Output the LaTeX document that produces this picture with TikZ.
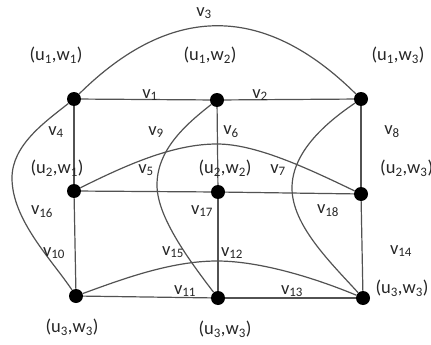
\documentclass[tikz,border=0pt]{standalone}
\usepackage{fontspec}
\setmainfont{Carlito}
\newcommand{\sbs}[1]{\textsubscript{#1}}
\begin{document}
\begin{tikzpicture}[x=1pt,y=-1pt,
  vtx/.style={circle,fill=black,inner sep=0pt,minimum size=14pt},
  edge/.style={draw=black!68,line width=1.2pt},
  lbl/.style={font=\fontsize{18.5}{20}\selectfont,text=black!85,inner sep=0pt}]
\useasboundingbox (0,0) rectangle (431,345);
% vertices
\node[vtx] (a11) at (74,99) {};
\node[vtx] (a12) at (217,100) {};
\node[vtx] (a13) at (361,99) {};
\node[vtx] (a21) at (74,191) {};
\node[vtx] (a22) at (218,192) {};
\node[vtx] (a23) at (361,194) {};
\node[vtx] (a31) at (76,296) {};
\node[vtx] (a32) at (218,298) {};
\node[vtx] (a33) at (363,298) {};
% straight edges
\draw[edge] (a11) -- (a12);
\draw[edge] (a12) -- (a13);
\draw[edge] (a21) -- (a22);
\draw[edge] (a22) -- (a23);
\draw[edge] (a31) -- (a32);
\draw[edge] (a32) -- (a33);
\draw[edge] (a11) -- (a21);
\draw[edge] (a21) -- (a31);
\draw[edge] (a12) -- (a22);
\draw[edge] (a22) -- (a32);
\draw[edge] (a13) -- (a23);
\draw[edge] (a23) -- (a33);
% curved edges
\draw[edge] (a11) .. controls (171,3) and (264,3) .. (a13);
\draw[edge] (a11) .. controls (45,122) and (12,145) .. (12,178)
  .. controls (12,220) and (52,260) .. (a31);
\draw[edge] (a12) .. controls (185,125) and (157,150) .. (157,185)
  .. controls (157,215) and (185,255) .. (a32);
\draw[edge] (a13) .. controls (330,120) and (292,150) .. (292,188)
  .. controls (292,225) and (330,262) .. (a33);
\draw[edge] (a21) .. controls (130,163) and (175,144) .. (217,144)
  .. controls (255,144) and (305,167) .. (a23);
\draw[edge] (a31) .. controls (120,280) and (170,261) .. (217,261)
  .. controls (260,261) and (315,278) .. (a33);
% vertex labels
\node[lbl] (t11) at (56,55) {(u\sbs{1},w\sbs{1})};
\node[lbl] (t12) at (210,55) {(u\sbs{1},w\sbs{2})};
\node[lbl] (t13) at (398,55) {(u\sbs{1},w\sbs{3})};
\node[lbl] (t21) at (57,168) {(u\sbs{2},w\sbs{1})};
\node[lbl] (t22) at (225,168) {(u\sbs{2},w\sbs{2})};
\node[lbl,anchor=west] (t23) at (380,168) {(u\sbs{2},w\sbs{3})};
\node[lbl] (t31) at (72,327) {(u\sbs{3},w\sbs{3})};
\node[lbl] (t32) at (225,329) {(u\sbs{3},w\sbs{3})};
\node[lbl] (t33) at (402,288) {(u\sbs{3},w\sbs{3})};
% edge labels
\node[lbl] (v3) at (204,13) {v\sbs{3}};
\node[lbl] (v1) at (150,95) {v\sbs{1}};
\node[lbl] (v2) at (260,95) {v\sbs{2}};
\node[lbl] (v4) at (56,132) {v\sbs{4}};
\node[lbl] (v9) at (156,132) {v\sbs{9}};
\node[lbl] (v6) at (231,132) {v\sbs{6}};
\node[lbl] (v8) at (392,132) {v\sbs{8}};
\node[lbl] (v5) at (146,170) {v\sbs{5}};
\node[lbl] (v7) at (278,170) {v\sbs{7}};
\node[lbl] (v16) at (42,212) {v\sbs{16}};
\node[lbl] (v17) at (202,211) {v\sbs{17}};
\node[lbl] (v18) at (328,211) {v\sbs{18}};
\node[lbl] (v10) at (54,253) {v\sbs{10}};
\node[lbl] (v15) at (173,252) {v\sbs{15}};
\node[lbl] (v12) at (232,253) {v\sbs{12}};
\node[lbl] (v14) at (401,251) {v\sbs{14}};
\node[lbl] (v11) at (185,291) {v\sbs{11}};
\node[lbl] (v13) at (292,291) {v\sbs{13}};
\end{tikzpicture}
\end{document}
